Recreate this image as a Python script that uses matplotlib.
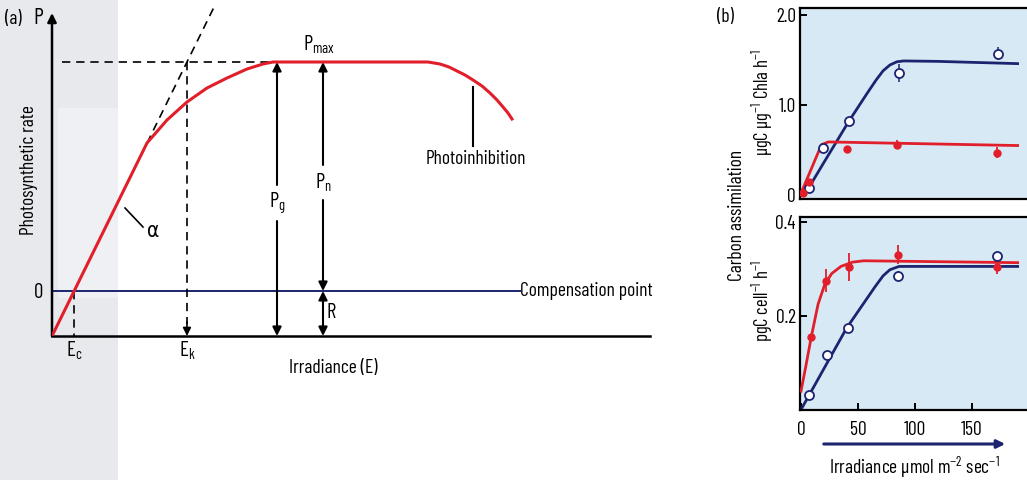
import matplotlib
matplotlib.use("Agg")
import matplotlib.pyplot as plt
from matplotlib.patches import Rectangle, FancyArrowPatch

# ---------------------------------------------------------------- fonts
FONT = "Barlow Condensed"
plt.rcParams["font.family"] = [FONT, "DejaVu Sans"]
plt.rcParams["font.stretch"] = "condensed"
plt.rcParams["mathtext.fontset"] = "custom"
plt.rcParams["mathtext.rm"] = FONT
plt.rcParams["mathtext.it"] = FONT
plt.rcParams["mathtext.default"] = "regular"
FS = 1.0

W, H = 1027, 480
RED = "#e11f2b"
NAVY = "#1c2470"
PANEL_BG = "#d8e9f6"

# ---------------------------------------------------------------- data (a)
# schematic photosynthesis–irradiance curve, arbitrary units
R = 45          # dark respiration (depth below the compensation line)
P_MAX = 229     # light-saturated net rate
ALPHA = 2.03    # initial slope
E_C = R / ALPHA
E_K = (P_MAX + R) / ALPHA
E_END = 598

curve_E = [0, 95, 115, 135, 155, 175, 195, 211, 221, 376, 388, 397, 405,
           413, 421, 430, 438, 445, 451, 456, 460]
curve_P = [-45, 148, 171, 189, 203, 213, 222, 227, 229, 229, 227, 224, 220,
           216, 211, 205, 198, 191, 184, 178, 172]

# ---------------------------------------------------------------- data (b)
chl_fit_blue_x = [3, 20, 42, 58, 66, 72, 78, 84, 90, 120, 190]
chl_fit_blue_y = [0.0, 0.36, 0.82, 1.13, 1.28, 1.38, 1.445, 1.48, 1.49, 1.485, 1.46]
chl_fit_red_x = [0, 18, 24, 190]
chl_fit_red_y = [0.02, 0.56, 0.59, 0.55]

chl_blue_x = [7, 19, 42, 86, 173]
chl_blue_y = [0.08, 0.52, 0.82, 1.36, 1.57]
chl_blue_err = [0, 0, 0.04, 0.10, 0.07]
chl_red_x = [2, 7, 40, 84, 172]
chl_red_y = [0.02, 0.15, 0.51, 0.56, 0.47]
chl_red_err = [0, 0, 0, 0.05, 0.06]

cell_fit_red_x = [0, 4, 9, 15, 21, 27, 35, 45, 55, 190]
cell_fit_red_y = [0.04, 0.09, 0.155, 0.225, 0.268, 0.29, 0.305, 0.314, 0.317, 0.313]
cell_fit_blue_x = [1, 40, 65, 72, 78, 86, 190]
cell_fit_blue_y = [0.005, 0.174, 0.262, 0.285, 0.298, 0.305, 0.305]

cell_red_x = [9, 22, 42, 85, 172]
cell_red_y = [0.155, 0.275, 0.304, 0.33, 0.304]
cell_red_err = [0, 0.025, 0.03, 0.02, 0.015]
cell_blue_x = [7, 23, 41, 85, 172]
cell_blue_y = [0.032, 0.117, 0.174, 0.285, 0.328]
cell_blue_err = [0, 0, 0, 0.01, 0]

irr_ticks = [0, 50, 100, 150]


def box(x0, y0, x1, y1):
    """Pixel box (top-left origin) -> figure fraction rectangle."""
    return [x0 / W, 1 - y1 / H, (x1 - x0) / W, (y1 - y0) / H]


def fpt(x, y):
    return x / W, 1 - y / H


fig = plt.figure(figsize=(W / 100, H / 100), dpi=100)
fig.patch.set_facecolor("white")

# grey margin of the page on the left
bg = fig.add_axes([0, 0, 1, 1], zorder=-5)
bg.set_xlim(0, W)
bg.set_ylim(H, 0)
bg.axis("off")
bg.add_patch(Rectangle((0, 0), 118, H, color="#e7e9ed", lw=0))
bg.add_patch(Rectangle((58, 108), 60, 190, color="#eff0f3", lw=0))

# ================================================================ panel (a)
ax = fig.add_axes(box(52, 13, 650, 336))
ax.set_facecolor("none")
ax.set_xlim(0, E_END)
ax.set_ylim(-R, 278)
for s in ("top", "right", "left"):
    ax.spines[s].set_visible(False)
ax.spines["bottom"].set_linewidth(1.8)
ax.set_xticks([])
ax.set_yticks([])

# vertical axis with arrow
ax.annotate("", xy=(0, 1.0), xytext=(0, 0), xycoords="axes fraction",
            arrowprops=dict(arrowstyle="-|>", color="k", lw=1.8,
                            mutation_scale=13, shrinkA=0, shrinkB=0))

# compensation line
ax.plot([0, 468], [0, 0], color=NAVY, lw=1.4, zorder=2)
# P-E curve
ax.plot(curve_E, curve_P, color=RED, lw=2.2, zorder=4, solid_joinstyle="round")

dash = dict(color="k", lw=1.2, ls=(0, (5, 3.5)))
# initial slope extension
e_top = (285 + R) / ALPHA
ax.plot([95, e_top], [ALPHA * 95 - R, ALPHA * e_top - R], clip_on=False, **dash)
# Pmax level
ax.plot([10, 221], [P_MAX, P_MAX], **dash)
# Ek and Ec drops
ax.plot([E_K, E_K], [P_MAX, -R + 12], **dash)
ax.annotate("", xy=(E_K, -R), xytext=(E_K, -R + 14),
            arrowprops=dict(arrowstyle="-|>", color="k", lw=1.2,
                            mutation_scale=12, shrinkA=0, shrinkB=0))
ax.plot([E_C, E_C], [0, -R], **dash)

arr = dict(arrowstyle="-|>", color="k", lw=1.5, mutation_scale=13,
           shrinkA=0, shrinkB=0)
# Pg
x_pg = 225
ax.annotate("", xy=(x_pg, P_MAX), xytext=(x_pg, 106), arrowprops=arr)
ax.annotate("", xy=(x_pg, -R), xytext=(x_pg, 70), arrowprops=arr)
ax.text(x_pg, 88, r"P$_g$", ha="center", va="center", fontsize=15 * FS)
# Pn
x_pn = 271
ax.annotate("", xy=(x_pn, P_MAX), xytext=(x_pn, 126), arrowprops=arr)
ax.annotate("", xy=(x_pn, 0), xytext=(x_pn, 91), arrowprops=arr)
ax.text(x_pn, 108, r"P$_n$", ha="center", va="center", fontsize=15 * FS)
# R
ax.annotate("", xy=(x_pn, -R), xytext=(x_pn, -22), arrowprops=arr)
ax.annotate("", xy=(x_pn, 0), xytext=(x_pn, -22), arrowprops=arr)
ax.text(x_pn + 3, -22, "R", ha="left", va="center", fontsize=15 * FS)

ax.text(251, 246, r"P$_{max}$", ha="left", va="center", fontsize=15 * FS)

# alpha
ax.plot([73, 91], [83, 64], color="k", lw=1.2)
ax.text(95, 60, "α", ha="left", va="center", fontsize=15 * FS,
        family="DejaVu Sans")

# photoinhibition
ax.plot([421, 421], [204, 145], color="k", lw=1.5)
ax.text(424, 132, "Photoinhibition", ha="center", va="center", fontsize=14 * FS)

ax.text(468, 0, "Compensation point", ha="left", va="center",
        fontsize=14 * FS, clip_on=False)
ax.text(281, -77, "Irradiance (E)", ha="center", va="center",
        fontsize=14 * FS, clip_on=False)
ax.text(E_C, -60, r"E$_c$", ha="center", va="center", fontsize=15 * FS,
        clip_on=False)
ax.text(E_K, -60, r"E$_k$", ha="center", va="center", fontsize=15 * FS,
        clip_on=False)
ax.text(-13, -1, "0", ha="center", va="center", fontsize=15 * FS, clip_on=False)
ax.text(-14, 273, "P", ha="center", va="center", fontsize=16 * FS, clip_on=False)
ax.text(-39, 272, "(a)", ha="center", va="center", fontsize=14 * FS,
        clip_on=False)
ax.text(-23, 121, "Photosynthetic rate", rotation=90, ha="center",
        va="center", fontsize=14 * FS, clip_on=False)

# ================================================================ panel (b)
X0, X1 = 800, 1037
PX_PER_UNIT = 1.14
xlim = (-(801 - X0) / PX_PER_UNIT, (X1 - 801) / PX_PER_UNIT)

axU = fig.add_axes(box(X0, 8, X1, 199))
axL = fig.add_axes(box(X0, 217, X1, 410))

for a in (axU, axL):
    a.set_facecolor(PANEL_BG)
    a.set_xlim(*xlim)
    for s in ("top", "left", "bottom"):
        a.spines[s].set_linewidth(1.6)
    a.spines["right"].set_visible(False)
    a.tick_params(direction="in", length=5, width=1.4, labelsize=14 * FS,
                  pad=3, right=False, top=False)

axU.set_ylim(-0.044, 2.078)
axU.set_yticks([0, 1.0, 2.0])
axU.set_yticklabels(["0", "1.0", "2.0"])
axU.set_xticks([])

axL.set_ylim(0, 0.41)
axL.set_yticks([0.2, 0.4])
axL.set_yticklabels(["0.2", "0.4"])
axL.set_xticks(irr_ticks)
axL.set_xticklabels([str(t) for t in irr_ticks])
axL.tick_params(axis="x", pad=8)

# upper: per unit chlorophyll
axU.plot(chl_fit_blue_x, chl_fit_blue_y, color=NAVY, lw=2.0, zorder=3)
axU.plot(chl_fit_red_x, chl_fit_red_y, color=RED, lw=2.0, zorder=3)
axU.errorbar(chl_blue_x, chl_blue_y, yerr=chl_blue_err, fmt="o", ms=6.5,
             mfc="white", mec=NAVY, mew=1.3, ecolor=NAVY, elinewidth=1.1,
             capsize=0, zorder=5)
axU.errorbar(chl_red_x, chl_red_y, yerr=chl_red_err, fmt="o", ms=5,
             color=RED, ecolor=RED, elinewidth=1.3, capsize=0, zorder=5)

# lower: per cell
axL.plot(cell_fit_blue_x, cell_fit_blue_y, color=NAVY, lw=2.0, zorder=3)
axL.plot(cell_fit_red_x, cell_fit_red_y, color=RED, lw=2.0, zorder=3)
axL.errorbar(cell_blue_x, cell_blue_y, yerr=cell_blue_err, fmt="o", ms=6.5,
             mfc="white", mec=NAVY, mew=1.3, ecolor=NAVY, elinewidth=1.1,
             capsize=0, zorder=5)
axL.errorbar(cell_red_x, cell_red_y, yerr=cell_red_err, fmt="o", ms=5,
             color=RED, ecolor=RED, elinewidth=1.3, capsize=0, zorder=5)

fig.text(*fpt(725, 17), "(b)", ha="center", va="center", fontsize=14 * FS)
fig.text(*fpt(737, 215), "Carbon assimilation", rotation=90,
         ha="center", va="center", fontsize=14 * FS)
fig.text(*fpt(762, 103), r"µgC µg$^{-1}$ Chla h$^{-1}$", rotation=90,
         ha="center", va="center", fontsize=13.5 * FS)
fig.text(*fpt(762, 301), r"pgC cell$^{-1}$ h$^{-1}$", rotation=90,
         ha="center", va="center", fontsize=13.5 * FS)

fig.patches.append(FancyArrowPatch(
    fpt(821, 444), fpt(1008, 444), transform=fig.transFigure,
    arrowstyle="-|>", mutation_scale=12, color=NAVY, lw=2.2))
fig.text(*fpt(914, 467), r"Irradiance µmol m$^{-2}$ sec$^{-1}$",
         ha="center", va="center", fontsize=14 * FS)

fig.savefig("out.png", dpi=100)
